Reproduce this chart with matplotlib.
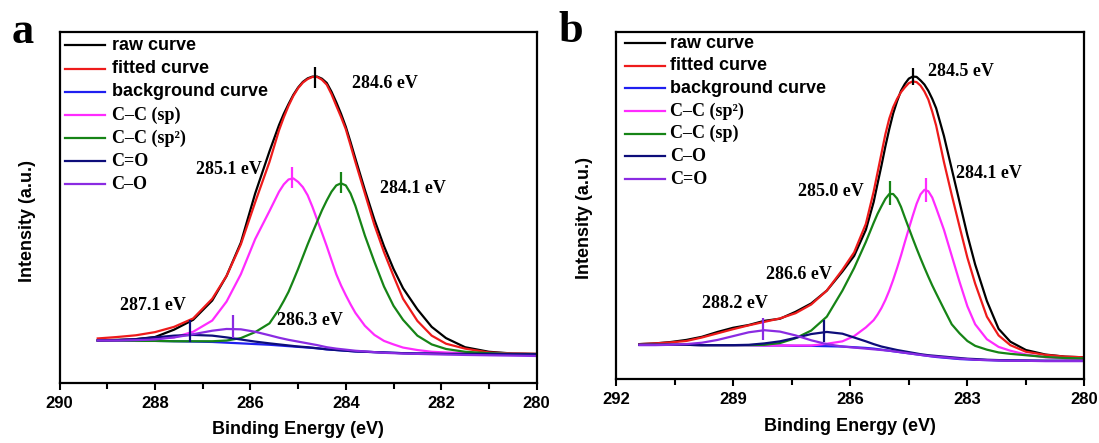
import matplotlib
matplotlib.use("Agg")
import matplotlib.pyplot as plt

# ---- panel a : C 1s ----
be_a = [289.2, 288.8, 288.4, 288.0, 287.6, 287.2, 286.8, 286.5, 286.2, 285.9,
        285.6, 285.4, 285.3, 285.2, 285.1, 285.0, 284.9, 284.8, 284.7, 284.6,
        284.5, 284.4, 284.3, 284.2, 284.1, 284.0, 283.9, 283.8, 283.6, 283.4,
        283.2, 283.0, 282.8, 282.5, 282.2, 281.9, 281.5, 281.0, 280.5, 280.0]
raw_a = [12.2, 12.3, 12.5, 13.1, 15.2, 18.0, 23.5, 30.5, 40.0, 54.0,
         66.0, 73.5, 76.7, 79.5, 82.1, 84.2, 85.8, 86.8, 87.3, 87.3,
         86.7, 85.5, 83.0, 80.0, 76.7, 73.0, 68.6, 64.0, 55.0, 46.5,
         39.0, 32.5, 27.0, 21.0, 16.0, 12.8, 10.2, 8.9, 8.4, 8.3]
fit_a = [12.7, 13.1, 13.6, 14.5, 16.0, 18.4, 24.0, 30.5, 39.5, 51.5,
         63.0, 72.0, 75.7, 79.0, 81.8, 84.0, 85.6, 86.6, 87.2, 87.2,
         86.4, 85.0, 82.3, 79.0, 75.8, 72.3, 67.7, 63.0, 54.0, 45.0,
         37.3, 30.5, 24.0, 17.7, 13.5, 11.2, 9.8, 8.7, 8.4, 8.3]
bg_a = [12.1, 12.1, 12.0, 12.0, 11.9, 11.8, 11.7, 11.5, 11.3, 11.1,
        10.9, 10.7, 10.6, 10.5, 10.4, 10.3, 10.2, 10.1, 10.0, 9.9,
        9.75, 9.6, 9.5, 9.4, 9.3, 9.2, 9.1, 9.0, 8.9, 8.8,
        8.7, 8.6, 8.5, 8.4, 8.4, 8.3, 8.3, 8.3, 8.2, 8.2]
cc_sp_a = [12.1, 12.2, 12.4, 12.7, 13.0, 14.6, 17.8, 23.2, 31.0, 41.0,
           49.0, 54.5, 56.6, 58.0, 58.3, 57.3, 55.8, 53.5, 50.2, 46.5,
           42.8, 39.0, 35.0, 31.0, 27.8, 25.0, 22.4, 20.0, 16.3, 13.7,
           12.0, 11.0, 10.1, 9.4, 8.9, 8.7, 8.5, 8.4, 8.3, 8.2]
cc_sp2_a = [12.1, 12.1, 12.0, 12.0, 11.9, 11.9, 11.9, 12.1, 12.8, 14.5,
            17.0, 21.0, 23.4, 26.0, 29.2, 32.5, 36.0, 39.5, 42.8, 46.0,
            49.2, 52.0, 54.5, 56.3, 56.9, 56.3, 54.0, 50.5, 42.0, 34.5,
            27.5, 22.0, 18.0, 13.5, 11.0, 9.7, 8.9, 8.5, 8.3, 8.2]
c_dbl_o_a = [12.1, 12.2, 12.5, 13.0, 13.5, 13.7, 13.5, 13.0, 12.4, 11.8,
             11.3, 11.0, 10.85, 10.7, 10.55, 10.4, 10.3, 10.2, 10.05, 9.9,
             9.75, 9.6, 9.5, 9.4, 9.3, 9.2, 9.1, 9.0, 8.9, 8.8,
             8.7, 8.6, 8.5, 8.4, 8.4, 8.3, 8.3, 8.3, 8.2, 8.2]
c_o_a = [12.1, 12.1, 12.2, 12.4, 13.0, 13.9, 14.9, 15.4, 15.3, 14.6,
         13.6, 12.9, 12.6, 12.3, 12.05, 11.8, 11.55, 11.3, 11.05, 10.8,
         10.5, 10.2, 10.0, 9.8, 9.65, 9.5, 9.35, 9.2, 9.0, 8.8,
         8.6, 8.5, 8.4, 8.3, 8.2, 8.1, 8.0, 7.9, 7.8, 7.7]
names_a = ["raw curve", "fitted curve", "background curve", "C\u2013C (sp)",
           "C\u2013C (sp\u00b2)", "C=O", "C\u2013O"]
# peak markers: position, bottom, top
mark_a = [284.65, 285.13, 284.11, 287.27, 286.37]
mark_lo_a = [84.0, 55.5, 54.0, 11.8, 12.7]
mark_hi_a = [90.1, 61.6, 60.2, 17.9, 19.4]
ticks_a = [290, 288, 286, 284, 282, 280]
minor_a = [289, 287, 285, 283, 281]

# ---- panel b ----
be_b = [291.4, 291.0, 290.6, 290.2, 289.8, 289.4, 289.0, 288.6, 288.2, 287.8,
        287.4, 287.0, 286.6, 286.2, 285.9, 285.6, 285.4, 285.3, 285.2, 285.1,
        285.0, 284.9, 284.8, 284.7, 284.6, 284.5, 284.4, 284.3, 284.2, 284.1,
        284.0, 283.9, 283.8, 283.6, 283.4, 283.2, 283.0, 282.8, 282.5, 282.2,
        281.9, 281.5, 281.0, 280.5, 280.0]
raw_b = [10.1, 10.3, 10.7, 11.3, 12.2, 13.6, 14.8, 15.6, 16.8, 17.4,
         19.4, 21.8, 25.5, 31.0, 35.5, 43.0, 51.0, 56.3, 61.5, 67.0,
         72.0, 76.5, 80.0, 83.0, 85.0, 86.5, 87.1, 87.0, 86.0, 84.8,
         83.0, 80.7, 78.0, 70.0, 60.5, 51.0, 41.5, 33.0, 22.5, 14.5,
         10.8, 8.4, 7.1, 6.5, 6.3]
fit_b = [10.1, 10.3, 10.6, 11.0, 12.0, 13.2, 14.4, 15.5, 16.5, 17.5,
         19.0, 21.5, 25.5, 31.5, 36.5, 44.7, 54.0, 59.5, 65.0, 70.5,
         75.0, 78.3, 80.7, 82.6, 84.0, 85.2, 85.7, 85.5, 84.5, 82.8,
         80.5, 77.0, 73.0, 62.5, 53.0, 43.9, 35.0, 27.5, 18.0, 12.6,
         9.8, 7.9, 7.0, 6.5, 6.3]
bg_b = [9.9, 9.9, 9.9, 9.9, 9.8, 9.8, 9.8, 9.8, 9.7, 9.7,
        9.6, 9.6, 9.5, 9.4, 9.2, 9.0, 8.8, 8.65, 8.5, 8.35,
        8.2, 8.05, 7.9, 7.75, 7.6, 7.45, 7.3, 7.15, 7.0, 6.85,
        6.7, 6.55, 6.4, 6.2, 6.0, 5.8, 5.7, 5.6, 5.5, 5.4,
        5.4, 5.3, 5.3, 5.3, 5.3]
cc_sp2_b = [9.9, 9.9, 9.9, 9.9, 9.8, 9.8, 9.8, 9.8, 9.7, 9.7,
            9.7, 9.7, 10.2, 10.9, 12.4, 14.9, 17.0, 18.6, 20.5, 22.8,
            25.5, 28.6, 32.0, 35.6, 39.5, 43.3, 47.0, 50.5, 53.2, 54.5,
            54.1, 52.3, 49.3, 43.0, 35.5, 28.0, 21.0, 15.8, 11.5, 9.3,
            8.2, 7.1, 6.3, 6.0, 5.9]
cc_sp_b = [9.9, 9.9, 9.9, 9.9, 9.8, 9.8, 9.8, 9.8, 9.9, 10.4,
           11.8, 14.0, 18.0, 25.5, 32.0, 39.5, 45.0, 47.6, 49.8, 51.9,
           53.3, 53.3, 52.0, 49.6, 46.5, 43.5, 40.5, 37.6, 34.8, 32.1,
           29.5, 27.0, 24.7, 20.2, 15.8, 13.2, 11.0, 9.6, 8.5, 7.7,
           7.3, 6.9, 6.4, 6.1, 6.0]
c_o_b = [9.9, 9.9, 9.9, 9.9, 9.8, 9.8, 9.8, 9.9, 10.3, 10.9,
         11.9, 13.0, 13.6, 13.1, 12.0, 10.9, 10.1, 9.75, 9.4, 9.15,
         8.9, 8.65, 8.4, 8.2, 8.0, 7.8, 7.6, 7.4, 7.2, 7.05,
         6.9, 6.8, 6.7, 6.5, 6.3, 6.1, 5.9, 5.8, 5.6, 5.5,
         5.4, 5.4, 5.3, 5.3, 5.3]
c_dbl_o_b = [9.8, 9.8, 9.9, 10.1, 10.5, 11.3, 12.4, 13.5, 14.1, 13.7,
             12.6, 11.2, 10.1, 9.4, 9.1, 8.8, 8.6, 8.5, 8.4, 8.3,
             8.2, 8.05, 7.9, 7.75, 7.6, 7.45, 7.3, 7.15, 7.0, 6.85,
             6.7, 6.6, 6.5, 6.3, 6.1, 5.9, 5.8, 5.6, 5.5, 5.4,
             5.3, 5.3, 5.2, 5.2, 5.2]
names_b = ["raw curve", "fitted curve", "background curve", "C\u2013C (sp\u00b2)",
           "C\u2013C (sp)", "C\u2013O", "C=O"]
mark_b = [284.39, 284.07, 284.97, 286.67, 288.24]
mark_lo_b = [84.7, 51.1, 50.1, 10.7, 11.2]
mark_hi_b = [89.5, 57.8, 56.9, 16.9, 17.5]
ticks_b = [292, 289, 286, 283, 280]
minor_b = [290.5, 287.5, 284.5, 281.5]

SANS = "Liberation Sans"
SERIF = "Liberation Serif"
colors = ["black", "#ee1b1b", "#1f1ff0", "#ff2bff", "#168416", "#0d0d7a", "#8a2be2"]
mark_colors = ["black", colors[3], colors[4], colors[5], colors[6]]
LW = 1.6


def panel(ax, be, curves, names, marks, lo, hi, xlim, ticks, minor, leg):
    for y, c in zip(curves, colors):
        ax.plot(be, y, color=c, lw=LW)
    ax.vlines(marks, lo, hi, colors=mark_colors, lw=LW)
    ax.set_xlim(*xlim)
    ax.set_ylim(0, 100)
    ax.set_xticks(ticks)
    ax.set_xticks(minor, minor=True)
    ax.set_yticks([])
    ax.tick_params(axis="x", which="major", length=5, width=1.5, pad=4, labelsize=12)
    ax.tick_params(axis="x", which="minor", length=4, width=1.5)
    for lab in ax.get_xticklabels():
        lab.set_fontfamily(SANS)
        lab.set_fontweight("bold")
    for s in ax.spines.values():
        s.set_linewidth(1.6)
    # hand-made legend, same look as the original
    x0, x1, xt, y0, dy = leg
    for i, (name, c) in enumerate(zip(names, colors)):
        y = y0 - i * dy
        ax.plot([x0, x1], [y, y], color=c, lw=LW, transform=ax.transAxes)
        fam = SERIF if name.startswith("C") else SANS
        ax.text(xt, y, name, transform=ax.transAxes, fontfamily=fam,
                fontweight="bold", fontsize=13, va="center")
    ax.set_xlabel("Binding Energy (eV)", fontfamily=SANS, fontweight="bold", fontsize=13)
    ax.set_ylabel("Intensity (a.u.)", fontfamily=SANS, fontweight="bold", fontsize=13,
                  va="center")


def peak_text(ax, x, y, s, ha="left"):
    ax.text(x, y, s, ha=ha, va="center", fontfamily=SERIF, fontweight="bold", fontsize=13)


fig = plt.figure(figsize=(10.99, 4.43), dpi=100)
ax1 = fig.add_axes([0.0542, 0.1354, 0.4341, 0.7923])
ax2 = fig.add_axes([0.5605, 0.1440, 0.4263, 0.7844])

panel(ax1, be_a, [raw_a, fit_a, bg_a, cc_sp_a, cc_sp2_a, c_dbl_o_a, c_o_a], names_a,
      mark_a, mark_lo_a, mark_hi_a, (290, 280), ticks_a, minor_a,
      (0.0113, 0.0952, 0.109, 0.962, 0.066))
panel(ax2, be_b, [raw_b, fit_b, bg_b, cc_sp2_b, cc_sp_b, c_o_b, c_dbl_o_b], names_b,
      mark_b, mark_lo_b, mark_hi_b, (292, 280), ticks_b, minor_b,
      (0.0192, 0.1046, 0.1153, 0.967, 0.0652))

ax1.xaxis.set_label_coords(0.5, -0.108)
ax2.xaxis.set_label_coords(0.5, -0.112)
ax1.yaxis.set_label_coords(-0.067, 0.461)
ax2.yaxis.set_label_coords(-0.068, 0.464)

peak_text(ax1, 283.88, 85.4, "284.6 eV")
peak_text(ax1, 285.76, 60.7, "285.1 eV", ha="right")
peak_text(ax1, 283.28, 55.5, "284.1 eV")
peak_text(ax1, 288.73, 22.2, "287.1 eV")
peak_text(ax1, 285.45, 17.9, "286.3 eV")

peak_text(ax2, 284.01, 88.6, "284.5 eV")
peak_text(ax2, 283.28, 59.3, "284.1 eV")
peak_text(ax2, 285.65, 54.0, "285.0 eV", ha="right")
peak_text(ax2, 286.48, 30.0, "286.6 eV", ha="right")
peak_text(ax2, 289.80, 21.8, "288.2 eV")

fig.text(0.0205, 0.903, "a", fontfamily=SERIF, fontweight="bold", fontsize=32,
         ha="center", va="baseline")
fig.text(0.5196, 0.906, "b", fontfamily=SERIF, fontweight="bold", fontsize=32,
         ha="center", va="baseline")

fig.savefig("out.png", dpi=100)
